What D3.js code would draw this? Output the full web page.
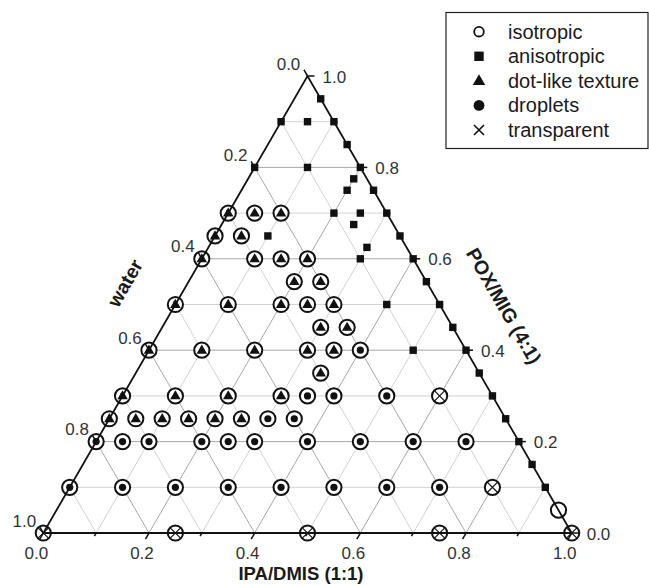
<!DOCTYPE html>
<html>
<head>
<meta charset="utf-8">
<script src="https://cdn.jsdelivr.net/npm/d3@7"></script>
<style>
  body { margin: 0; background: #fff; }
  text { font-family: Arial, "Liberation Sans", sans-serif; }
</style>
</head>
<body>
<div class="chart"></div>
<script>
// compositions as [IPA/DMIS, POX/MIG]; water is the remainder
var anisotropic = [
  [0.05, 0.95], [0.1, 0.9], [0.15, 0.85], [0.2, 0.8], [0.25, 0.75], [0.3, 0.7],
  [0.35, 0.65], [0.4, 0.6], [0.45, 0.55], [0.5, 0.5], [0.55, 0.45], [0.6, 0.4],
  [0.65, 0.35], [0.7, 0.3], [0.75, 0.25], [0.8, 0.2], [0.85, 0.15], [0.9, 0.1],
  [0, 0.9], [0.05, 0.9], [0, 0.8], [0.1, 0.8], [0.2, 0.775], [0.2, 0.75],
  [0.2, 0.7], [0.25, 0.7], [0.25, 0.675], [0.1, 0.65], [0.3, 0.625], [0.3, 0.6],
  [0.4, 0.5], [0.5, 0.4]
];
var dotLike = [
  [0, 0.7], [0.05, 0.7], [0.1, 0.7],
  [0, 0.65], [0.05, 0.65],
  [0, 0.6], [0.1, 0.6], [0.15, 0.6], [0.2, 0.6],
  [0.2, 0.55], [0.25, 0.55],
  [0, 0.5], [0.1, 0.5], [0.2, 0.5], [0.25, 0.5], [0.3, 0.5],
  [0.3, 0.45], [0.35, 0.45],
  [0, 0.4], [0.1, 0.4], [0.2, 0.4], [0.3, 0.4], [0.35, 0.4],
  [0.35, 0.35],
  [0, 0.3], [0.1, 0.3], [0.2, 0.3], [0.3, 0.3],
  [0, 0.25], [0.05, 0.25], [0.1, 0.25], [0.15, 0.25], [0.2, 0.25], [0.25, 0.25]
];
var droplets = [
  [0.4, 0.4],
  [0.35, 0.3], [0.4, 0.3], [0.5, 0.3],
  [0.3, 0.25], [0.35, 0.25],
  [0, 0.2], [0.05, 0.2], [0.1, 0.2], [0.2, 0.2], [0.25, 0.2], [0.3, 0.2],
  [0.4, 0.2], [0.5, 0.2], [0.6, 0.2], [0.7, 0.2],
  [0, 0.1], [0.1, 0.1], [0.2, 0.1], [0.3, 0.1], [0.4, 0.1], [0.5, 0.1],
  [0.6, 0.1], [0.7, 0.1]
];
var transparent = [
  [0.6, 0.3], [0.8, 0.1],
  [0, 0], [0.25, 0], [0.5, 0], [0.75, 0], [1, 0]
];
var isotropic = [[0.95, 0.05]];

var ticks = [0, 0.1, 0.2, 0.3, 0.4, 0.5, 0.6, 0.7, 0.8, 0.9, 1.0];
var tickLabels = ['0.0', '0.2', '0.4', '0.6', '0.8', '1.0'];
var legendNames = ['isotropic', 'anisotropic', 'dot-like texture', 'droplets', 'transparent'];

var width = 649, height = 585;

var svg = d3.select('.chart')
  .append('svg')
    .attr('width', width)
    .attr('height', height);

var xScale = d3.scaleLinear().domain([0, 1]).range([43.3, 571.7]);
var yScale = d3.scaleLinear().domain([0, 1]).range([533, 76]);

// ternary -> screen
var px = (ipa, pox) => xScale(ipa + pox / 2);
var py = (pox) => yScale(pox);

var isMajor = t => Math.round(t * 10) % 2 === 0;

// grid
var grid = svg.append('g');
ticks.slice(1, -1).forEach(k => {
  var c = isMajor(k) ? '#a8a8a8' : '#d2d2d2';
  var segs = [
    [[0, k], [1 - k, k]],
    [[k, 0], [k, 1 - k]],
    [[1 - k, 0], [0, 1 - k]]
  ];
  segs.forEach(s => {
    grid.append('line')
      .attr('x1', px(s[0][0], s[0][1])).attr('y1', py(s[0][1]))
      .attr('x2', px(s[1][0], s[1][1])).attr('y2', py(s[1][1]))
      .style('stroke', c).style('stroke-width', 1);
  });
});

// marker drawing
var R = 7.6;
function ring(g) {
  g.append('circle').attr('r', R).style('fill', '#fff').style('stroke', '#111').style('stroke-width', 2);
}
function tri(g, s) {
  var h = s * 0.866;
  g.append('path').attr('d', 'M0,' + (-h * 0.62) + 'L' + (s / 2) + ',' + (h * 0.38) + 'L' + (-s / 2) + ',' + (h * 0.38) + 'Z')
    .style('fill', '#111');
}
function cross(g, a, w) {
  g.append('path').attr('d', 'M' + (-a) + ',' + (-a) + 'L' + a + ',' + a + 'M' + a + ',' + (-a) + 'L' + (-a) + ',' + a)
    .style('stroke', '#111').style('stroke-width', w).style('fill', 'none');
}

var marks = svg.append('g');
function place(data, draw) {
  marks.selectAll(null)
    .data(data)
    .enter()
    .append('g')
      .attr('transform', d => 'translate(' + px(d[0], d[1]) + ',' + py(d[1]) + ')')
      .each(function() { draw(d3.select(this)); });
}

place(isotropic, g => ring(g));
place(dotLike, g => { ring(g); tri(g, 10.5); });
place(droplets, g => { ring(g); g.append('circle').attr('r', 3.6).style('fill', '#111'); });
place(transparent, g => { ring(g); cross(g, 5.2, 1.2); });
place(anisotropic, g => {
  g.append('rect').attr('x', -3.7).attr('y', -3.7).attr('width', 7.4).attr('height', 7.4).style('fill', '#111');
});

// frame, drawn over the markers
svg.append('path')
  .attr('d', 'M' + px(0, 0) + ',' + py(0) + 'L' + px(1, 0) + ',' + py(0) + 'L' + px(0, 1) + ',' + py(1) + 'Z')
  .style('fill', 'none').style('stroke', '#111').style('stroke-width', 1.8)
  .style('stroke-linejoin', 'miter');

// ticks and labels
var axes = svg.append('g');
ticks.forEach(k => {
  var len = isMajor(k) ? 7 : 3.5;
  // bottom, IPA/DMIS
  var bx = px(k, 0), by = py(0);
  axes.append('line').attr('x1', bx).attr('y1', by)
    .attr('x2', bx - 0.5 * len).attr('y2', by + 0.866 * len)
    .style('stroke', '#111').style('stroke-width', 1.5);
  // left, water
  var lx = px(0, 1 - k), ly = py(1 - k);
  axes.append('line').attr('x1', lx).attr('y1', ly)
    .attr('x2', lx - 0.5 * len).attr('y2', ly - 0.866 * len)
    .style('stroke', '#111').style('stroke-width', 1.5);
  // right, POX/MIG
  var rx = px(1 - k, k), ry = py(k);
  axes.append('line').attr('x1', rx).attr('y1', ry)
    .attr('x2', rx + len).attr('y2', ry)
    .style('stroke', '#111').style('stroke-width', 1.5);

  if (isMajor(k)) {
    var lab = tickLabels[Math.round(k * 5)];
    axes.append('text').attr('x', bx - 7).attr('y', 559)
      .attr('text-anchor', 'middle').style('font-size', '17px').style('fill', '#333').text(lab);
    axes.append('text').attr('x', lx - 19).attr('y', ly - 6.5)
      .attr('text-anchor', 'middle').style('font-size', '17px').style('fill', '#333').text(lab);
    axes.append('text').attr('x', rx + 15).attr('y', ry + 6.5)
      .attr('text-anchor', 'start').style('font-size', '17px').style('fill', '#333').text(lab);
  }
});

// axis titles
svg.append('text').attr('x', 301).attr('y', 579.5)
  .attr('text-anchor', 'middle').style('font-size', '18.5px').style('font-weight', 'bold')
  .style('fill', '#1a1a1a').text('IPA/DMIS (1:1)');
svg.append('text')
  .attr('transform', 'translate(125,283) rotate(-60)')
  .attr('text-anchor', 'middle').attr('dy', '0.35em')
  .style('font-size', '19.5px').style('font-weight', 'bold').style('fill', '#1a1a1a').text('water');
svg.append('text')
  .attr('transform', 'translate(504,306) rotate(60)')
  .attr('text-anchor', 'middle').attr('dy', '0.35em')
  .style('font-size', '19.5px').style('font-weight', 'bold').style('fill', '#1a1a1a').text('POX/MIG (4:1)');

// legend
var legend = svg.append('g');
legend.append('rect')
  .attr('x', 446).attr('y', 12.5).attr('width', 202).attr('height', 136)
  .style('fill', '#fff').style('stroke', '#222').style('stroke-width', 1.2);

var rowY = d3.scaleLinear().domain([0, 4]).range([31.7, 130]);
legendNames.forEach((name, i) => {
  var g = legend.append('g').attr('transform', 'translate(479,' + rowY(i) + ')');
  if (i === 0) g.append('circle').attr('r', 4.8).style('fill', 'none').style('stroke', '#111').style('stroke-width', 1.8);
  if (i === 1) g.append('rect').attr('x', -4.7).attr('y', -4.7).attr('width', 9.4).attr('height', 9.4).style('fill', '#111');
  if (i === 2) tri(g, 12.5);
  if (i === 3) g.append('circle').attr('r', 5.4).style('fill', '#111');
  if (i === 4) cross(g, 5, 1.6);
  legend.append('text').attr('x', 508).attr('y', rowY(i)).attr('dy', '0.35em')
    .style('font-size', '20px').style('fill', '#1a1a1a').text(name);
});
</script>
</body>
</html>
